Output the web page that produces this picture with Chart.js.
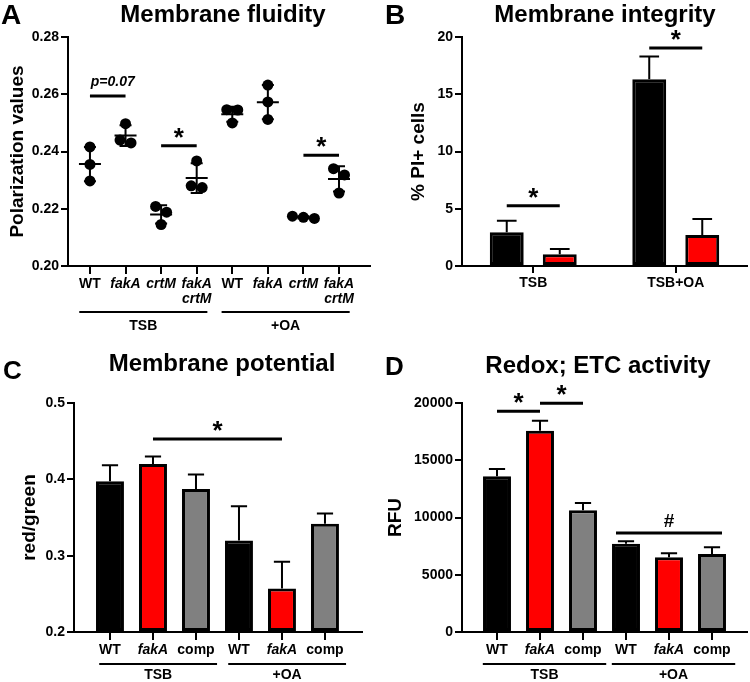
<!DOCTYPE html>
<html>
<head>
<meta charset="utf-8">
<script src="https://cdn.jsdelivr.net/npm/chart.js@4.4.1/dist/chart.umd.min.js"></script>
<style>
  body { margin: 0; background: #fff; font-family: "Liberation Sans", Arial, sans-serif; }
  #fig { position: relative; width: 750px; height: 682px; }
  canvas { position: absolute; }
  .letter, .title { position: absolute; font-weight: bold; line-height: 1; white-space: nowrap; color: #000; }
  .letter { font-size: 28px; }
  .title { font-size: 24px; transform: translateX(-50%); }
</style>
</head>
<body>
<div id="fig">
  <canvas id="chartA" width="375" height="341" style="left:0;top:0"></canvas>
  <canvas id="chartB" width="375" height="341" style="left:375px;top:0"></canvas>
  <canvas id="chartC" width="375" height="341" style="left:0;top:341px"></canvas>
  <canvas id="chartD" width="375" height="341" style="left:375px;top:341px"></canvas>

  <div class="letter" style="left:1px;top:1px">A</div>
  <div class="title" style="left:223px;top:2px">Membrane fluidity</div>
  <div class="letter" style="left:385px;top:1px">B</div>
  <div class="title" style="left:605px;top:2px">Membrane integrity</div>
  <div class="letter" style="left:3px;top:357px;font-size:26px">C</div>
  <div class="title" style="left:222px;top:351px">Membrane potential</div>
  <div class="letter" style="left:385px;top:353px;font-size:26px">D</div>
  <div class="title" style="left:598px;top:353px">Redox; ETC activity</div>
</div>

<script>
// ---- A: membrane fluidity, 3 replicates per strain ----
const fluidLabels = ['WT', 'fakA', 'crtM', ['fakA', 'crtM'], 'WT', 'fakA', 'crtM', ['fakA', 'crtM']];
const fluidItalic = [false, true, true, true, false, true, true, true];
const fluidPoints = [
  [0.2416, 0.2355, 0.2297],
  [0.2497, 0.2430, 0.2440],
  [0.2208, 0.2188, 0.2145],
  [0.2367, 0.2274, 0.2280],
  [0.2546, 0.2545, 0.2500],
  [0.2632, 0.2573, 0.2512],
  [0.2166, 0.2170, 0.2174],
  [0.2340, 0.2318, 0.2255]
];
const fluidTicks = [0.20, 0.22, 0.24, 0.26, 0.28];
const fluidGroups = [{ label: 'TSB', from: 0, to: 3 }, { label: '+OA', from: 4, to: 7 }];
const fluidSig = [
  { from: 0, to: 1, y: 0.2594, label: 'p=0.07' },
  { from: 2, to: 3, y: 0.2420, label: '*' },
  { from: 6, to: 7, y: 0.2387, label: '*' }
];

// ---- B: membrane integrity (% PI+ cells) ----
const integrityLabels = ['TSB', 'TSB+OA'];
const integrityWT = [2.94, 16.3];
const integrityWTErr = [1.01, 2.0];
const integrityFakA = [1.02, 2.7];
const integrityFakAErr = [0.46, 1.4];
const integrityTicks = [0, 5, 10, 15, 20];
const integritySig = [
  { cat: 0, y: 5.26, label: '*' },
  { cat: 1, y: 19.05, label: '*' }
];

// ---- C: membrane potential (red/green) ----
const strainLabels = ['WT', 'fakA', 'comp', 'WT', 'fakA', 'comp'];
const strainItalic = [false, true, false, false, true, false];
const potentialMeans = [0.3976, 0.4202, 0.3875, 0.3199, 0.2571, 0.3417];
const potentialErr = [0.0209, 0.0096, 0.0188, 0.0450, 0.0349, 0.0136];
const potentialTicks = [0.2, 0.3, 0.4, 0.5];
const potentialSig = [{ from: 1, to: 4, y: 0.4529, label: '*' }];

// ---- D: redox / ETC activity (RFU) ----
const redoxMeans = [13595, 17584, 10626, 7715, 6521, 6812];
const redoxErr = [641, 873, 640, 203, 349, 582];
const redoxTicks = [0, 5000, 10000, 15000, 20000];
const redoxSig = [
  { from: 0, to: 1, y: 19272, label: '*' },
  { from: 1, to: 2, y: 19971, label: '*' },
  { from: 3, to: 5, y: 8646, label: '#' }
];
const strainGroups = [{ label: 'TSB', from: 0, to: 2 }, { label: '+OA', from: 3, to: 5 }];
const barColors = ['#000000', '#ff0000', '#808080', '#000000', '#ff0000', '#808080'];

const FAMILY = '"Liberation Sans", Arial, sans-serif';
Chart.defaults.font.family = FAMILY;
Chart.defaults.color = '#000';
Chart.defaults.animation = false;

const tickFont = { size: 14, weight: 'bold' };
const titleFont = { size: 19, weight: 'bold' };

function yAxis(min, max, ticks, width, title, titlePad, fmt) {
  return {
    min: min, max: max,
    afterBuildTicks: s => { s.ticks = ticks.map(v => ({ value: v })); },
    afterFit: s => { s.width = width; },
    border: { color: '#000', width: 2 },
    grid: { drawOnChartArea: false, color: '#000', lineWidth: 2, tickLength: 7 },
    ticks: { font: tickFont, padding: 2, callback: fmt },
    title: { display: true, text: title, font: titleFont, padding: { top: titlePad, bottom: 0 } }
  };
}

function xIndexAxis(min, max, labels, italic, height) {
  return {
    type: 'linear', min: min, max: max, offset: false,
    afterBuildTicks: s => { s.ticks = labels.map((_, i) => ({ value: i })); },
    afterFit: s => { s.height = height; },
    border: { color: '#000', width: 2 },
    grid: { drawOnChartArea: false, color: '#000', lineWidth: 2, tickLength: 8, offset: false },
    ticks: {
      autoSkip: false, maxRotation: 0, padding: 2,
      font: c => ({ size: 14, weight: 'bold', style: italic[c.index] ? 'italic' : 'normal', lineHeight: 1.1 }),
      callback: v => labels[v]
    }
  };
}

// spread replicate dots that sit in the same row, like GraphPad does
const swarmPlugin = {
  id: 'swarm',
  afterDatasetsUpdate(chart) {
    const xs = chart.scales.x;
    const ds = chart.data.datasets[0];
    const meta = chart.getDatasetMeta(0);
    const byCat = {};
    meta.data.forEach((pt, i) => {
      const cat = ds.data[i].x;
      (byCat[cat] = byCat[cat] || []).push(pt);
      pt.x = xs.getPixelForValue(cat);
    });
    Object.values(byCat).forEach(pts => {
      pts.sort((a, b) => a.y - b.y);
      const rows = [];
      let row = [];
      pts.forEach(p => {
        if (row.length && p.y - row[0].y > 11) { rows.push(row); row = []; }
        row.push(p);
      });
      rows.push(row);
      rows.forEach(r => r.forEach((p, k) => { p.x += (k - (r.length - 1) / 2) * 11; }));
    });
  }
};

// mean +/- SD lines behind the dots
const meanSdPlugin = {
  id: 'meanSd',
  beforeDatasetsDraw(chart) {
    const { ctx } = chart;
    const xs = chart.scales.x, ys = chart.scales.y;
    ctx.save();
    ctx.strokeStyle = '#000';
    ctx.lineWidth = 2;
    fluidPoints.forEach((vals, i) => {
      const m = vals.reduce((a, b) => a + b, 0) / vals.length;
      const sd = Math.sqrt(vals.reduce((a, b) => a + (b - m) * (b - m), 0) / (vals.length - 1));
      const x = xs.getPixelForValue(i);
      const yt = ys.getPixelForValue(m + sd), yb = ys.getPixelForValue(m - sd), ym = ys.getPixelForValue(m);
      ctx.beginPath();
      ctx.moveTo(x - 11, ym); ctx.lineTo(x + 11, ym);
      ctx.moveTo(x, yt); ctx.lineTo(x, yb);
      ctx.moveTo(x - 6, yt); ctx.lineTo(x + 6, yt);
      ctx.moveTo(x - 6, yb); ctx.lineTo(x + 6, yb);
      ctx.stroke();
    });
    ctx.restore();
  }
};

// upward error bars (mean + SEM) on bar charts
const errorBarPlugin = {
  id: 'errorBars',
  afterDatasetsDraw(chart) {
    const { ctx } = chart;
    const ys = chart.scales.y;
    ctx.save();
    ctx.strokeStyle = '#000';
    ctx.lineWidth = 2;
    chart.data.datasets.forEach((ds, di) => {
      chart.getDatasetMeta(di).data.forEach((bar, i) => {
        const d = ds.data[i];
        const v = typeof d === 'number' ? d : d.y;
        const top = ys.getPixelForValue(v + ds.errors[i]);
        const w = bar.width * 0.29;
        ctx.beginPath();
        ctx.moveTo(bar.x, bar.y); ctx.lineTo(bar.x, top);
        ctx.moveTo(bar.x - w, top); ctx.lineTo(bar.x + w, top);
        ctx.stroke();
      });
    });
    ctx.restore();
  }
};

// significance lines with * / # / p labels
const sigPlugin = {
  id: 'sig',
  afterDatasetsDraw(chart, args, opts) {
    const { ctx } = chart;
    const xs = chart.scales.x, ys = chart.scales.y;
    ctx.save();
    ctx.strokeStyle = '#000';
    ctx.fillStyle = '#000';
    ctx.lineWidth = 3;
    (opts.marks || []).forEach((m, k) => {
      let x0, x1;
      if (m.cat !== undefined) {
        x0 = chart.getDatasetMeta(0).data[m.cat].x;
        x1 = chart.getDatasetMeta(1).data[m.cat].x;
      } else {
        x0 = xs.getPixelForValue(m.from);
        x1 = xs.getPixelForValue(m.to);
      }
      const ext = (opts.extend && opts.extend[k]) || 0;
      x0 -= ext; x1 += ext;
      const y = ys.getPixelForValue(m.y);
      ctx.beginPath();
      ctx.moveTo(x0, y); ctx.lineTo(x1, y);
      ctx.stroke();
      if (m.label === '*') ctx.font = 'bold 26px ' + FAMILY;
      else if (m.label === '#') ctx.font = 'bold 19px ' + FAMILY;
      else ctx.font = 'italic bold 14px ' + FAMILY;
      ctx.textAlign = 'center';
      ctx.textBaseline = 'alphabetic';
      const mt = ctx.measureText(m.label);
      const cy = y - 13;
      ctx.fillText(m.label, (x0 + x1) / 2 + (m.label.length > 1 ? 5 : 0), cy + (mt.actualBoundingBoxAscent - mt.actualBoundingBoxDescent) / 2);
    });
    ctx.restore();
  }
};

// TSB / +OA group underlines below the category labels
const groupPlugin = {
  id: 'groups',
  afterDraw(chart, args, opts) {
    if (!opts.groups) return;
    const { ctx } = chart;
    const xs = chart.scales.x;
    const step = xs.getPixelForValue(1) - xs.getPixelForValue(0);
    ctx.save();
    ctx.strokeStyle = '#000';
    ctx.fillStyle = '#000';
    ctx.lineWidth = 2;
    ctx.font = 'bold 14px ' + FAMILY;
    ctx.textAlign = 'center';
    ctx.textBaseline = 'middle';
    opts.groups.forEach(g => {
      const x0 = xs.getPixelForValue(g.from) - opts.left * step;
      const x1 = xs.getPixelForValue(g.to) + opts.right * step;
      ctx.beginPath();
      ctx.moveTo(x0, opts.lineY); ctx.lineTo(x1, opts.lineY);
      ctx.stroke();
      ctx.fillText(g.label, (x0 + x1) / 2, opts.textY);
    });
    ctx.restore();
  }
};

const noLegend = { legend: { display: false }, tooltip: { enabled: false } };

// A
new Chart(document.getElementById('chartA'), {
  type: 'scatter',
  data: {
    datasets: [{
      data: fluidPoints.flatMap((vals, i) => vals.map(v => ({ x: i, y: v }))),
      backgroundColor: '#000', borderColor: '#000', pointRadius: 5.5, borderWidth: 0
    }]
  },
  options: {
    responsive: false,
    layout: { padding: { top: 37, right: 5, left: 0, bottom: 0 } },
    scales: {
      x: xIndexAxis(-0.617, 7.857, fluidLabels, fluidItalic, 75),
      y: yAxis(0.2, 0.28, fluidTicks, 68, 'Polarization values', 6, v => v.toFixed(2))
    },
    plugins: Object.assign({}, noLegend, {
      sig: { marks: fluidSig },
      groups: { groups: fluidGroups, left: 0.3, right: 0.3, lineY: 312, textY: 326 }
    })
  },
  plugins: [swarmPlugin, meanSdPlugin, sigPlugin, groupPlugin]
});

// B
new Chart(document.getElementById('chartB'), {
  type: 'bar',
  data: {
    labels: integrityLabels,
    datasets: [
      { data: integrityWT, errors: integrityWTErr, backgroundColor: '#000', borderColor: '#000', borderWidth: 3, borderSkipped: false },
      { data: integrityFakA, errors: integrityFakAErr, backgroundColor: '#ff0000', borderColor: '#000', borderWidth: 3, borderSkipped: false }
    ]
  },
  options: {
    responsive: false,
    categoryPercentage: 0.744,
    barPercentage: 0.64,
    layout: { padding: { top: 37, right: 3, left: 0, bottom: 0 } },
    scales: {
      x: {
        afterFit: s => { s.height = 75; },
        border: { color: '#000', width: 2 },
        grid: { drawOnChartArea: false, color: '#000', lineWidth: 2, tickLength: 7, offset: false },
        ticks: { font: tickFont, padding: 2 }
      },
      y: yAxis(0, 20, integrityTicks, 87, '% PI+ cells', 32, v => String(v))
    },
    plugins: Object.assign({}, noLegend, { sig: { marks: integritySig } })
  },
  plugins: [errorBarPlugin, sigPlugin]
});

function strainBarChart(id, means, errs, base, yCfg, xMin, xMax, padRight, sigMarks, sigExtend, groupOpts) {
  return new Chart(document.getElementById(id), {
    type: 'bar',
    data: {
      datasets: [{
        data: means.map((v, i) => ({ x: i, y: v })),
        errors: errs,
        base: base,
        backgroundColor: barColors,
        borderColor: '#000', borderWidth: 3, borderSkipped: false,
        categoryPercentage: 1, barPercentage: 0.65
      }]
    },
    options: {
      responsive: false,
      layout: { padding: { top: 62, right: padRight, left: 0, bottom: 0 } },
      scales: {
        x: xIndexAxis(xMin, xMax, strainLabels, strainItalic, 50),
        y: yCfg
      },
      plugins: Object.assign({}, noLegend, {
        sig: { marks: sigMarks, extend: sigExtend },
        groups: groupOpts
      })
    },
    plugins: [errorBarPlugin, sigPlugin, groupPlugin]
  });
}

// C
strainBarChart('chartC', potentialMeans, potentialErr, 0.2,
  yAxis(0.2, 0.5, potentialTicks, 74, 'red/green', 18, v => v.toFixed(1)),
  -0.837, 5.861, 13, potentialSig, [],
  { groups: strainGroups, left: 0.25, right: 0.49, lineY: 323, textY: 334 });

// D
strainBarChart('chartD', redoxMeans, redoxErr, 0,
  yAxis(0, 20000, redoxTicks, 87, 'RFU', 9, v => String(v)),
  -0.814, 5.814, 3, redoxSig, [0, 0, 10],
  { groups: strainGroups, left: 0.33, right: 0.54, lineY: 323, textY: 334 });
</script>
</body>
</html>
